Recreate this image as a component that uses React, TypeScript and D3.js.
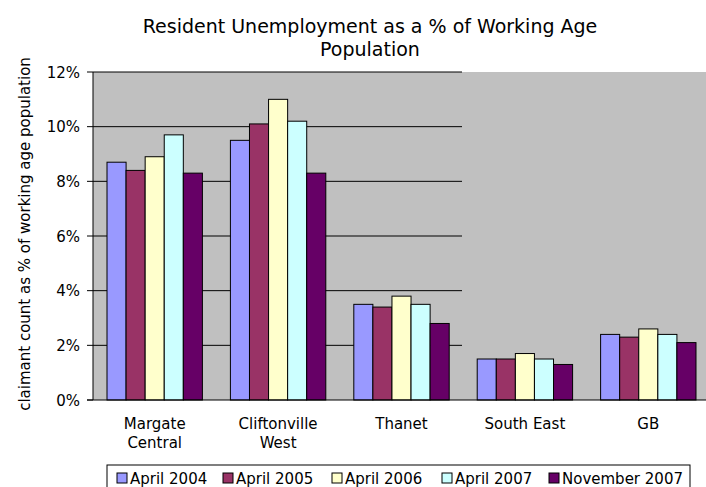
import React from "react";
import * as d3 from "d3";

const categories = [["Margate", "Central"], ["Cliftonville", "West"], ["Thanet"], ["South East"], ["GB"]];
const seriesNames = ["April 2004", "April 2005", "April 2006", "April 2007", "November 2007"];
const seriesColors = ["#9999FF", "#993366", "#FFFFCC", "#CCFFFF", "#660066"];
const values = [
  [8.7, 8.4, 8.9, 9.7, 8.3],
  [9.5, 10.1, 11.0, 10.2, 8.3],
  [3.5, 3.4, 3.8, 3.5, 2.8],
  [1.5, 1.5, 1.7, 1.5, 1.3],
  [2.4, 2.3, 2.6, 2.4, 2.1],
];
const yTicks = [0, 2, 4, 6, 8, 10, 12];
const legendX = [117, 223, 332, 442, 549];

export default function App() {
  const W = 706, H = 487;
  const left = 93, right = 710, top = 72, bottom = 400;
  const font = "Verdana, 'DejaVu Sans', sans-serif";
  const x0 = d3.scaleBand<number>().domain(d3.range(categories.length)).range([left, right]).paddingInner(0.227).paddingOuter(0.1135);
  const x1 = d3.scaleBand<number>().domain(d3.range(seriesNames.length)).range([0, x0.bandwidth()]);
  const y = d3.scaleLinear().domain([0, 12]).range([bottom, top]);
  return (
    <svg width={W} height={H} style={{ position: "absolute", left: 0, top: 0 }} fontFamily={font}>
      <rect x={0} y={0} width={W} height={H} fill="white" />
      <text x={370} y={33} textAnchor="middle" fontSize={19} fill="#000">Resident Unemployment as a % of Working Age</text>
      <text x={370} y={56} textAnchor="middle" fontSize={19} fill="#000">Population</text>
      <rect x={left} y={top} width={right - left} height={bottom - top} fill="#C0C0C0" />
      {yTicks.map((t) => (
        <g key={t}>
          {t > 0 && <line x1={left} x2={462} y1={y(t)} y2={y(t)} stroke="#000" strokeWidth={1} />}
          <line x1={87} x2={left} y1={y(t)} y2={y(t)} stroke="#000" />
          <text x={80} y={y(t) + 5.5} textAnchor="end" fontSize={15}>{t}%</text>
        </g>
      ))}
      {values.map((row, ci) =>
        row.map((v, si) => (
          <rect key={ci + "-" + si} x={(x0(ci) as number) + (x1(si) as number)} y={y(v)} width={x1.bandwidth()} height={bottom - y(v)} fill={seriesColors[si]} stroke="#000" strokeWidth={1} />
        ))
      )}
      <line x1={left} x2={left} y1={top} y2={bottom} stroke="#000" />
      <line x1={87} x2={right} y1={bottom} y2={bottom} stroke="#000" />
      {categories.map((lines, ci) => (
        <text key={ci} textAnchor="middle" fontSize={15}>
          {lines.map((l, li) => (
            <tspan key={li} x={(x0(ci) as number) + x0.bandwidth() / 2} y={429 + li * 18.5}>{l}</tspan>
          ))}
        </text>
      ))}
      <text transform={`translate(30,234) rotate(-90)`} textAnchor="middle" fontSize={15}>claimant count as % of working age population</text>
      <rect x={107} y={465} width={583} height={30} fill="white" stroke="#000" />
      {seriesNames.map((s, i) => (
        <g key={s}>
          <rect x={legendX[i]} y={473} width={10} height={10} fill={seriesColors[i]} stroke="#000" />
          <text x={legendX[i] + 13} y={484} fontSize={15}>{s}</text>
        </g>
      ))}
    </svg>
  );
}
